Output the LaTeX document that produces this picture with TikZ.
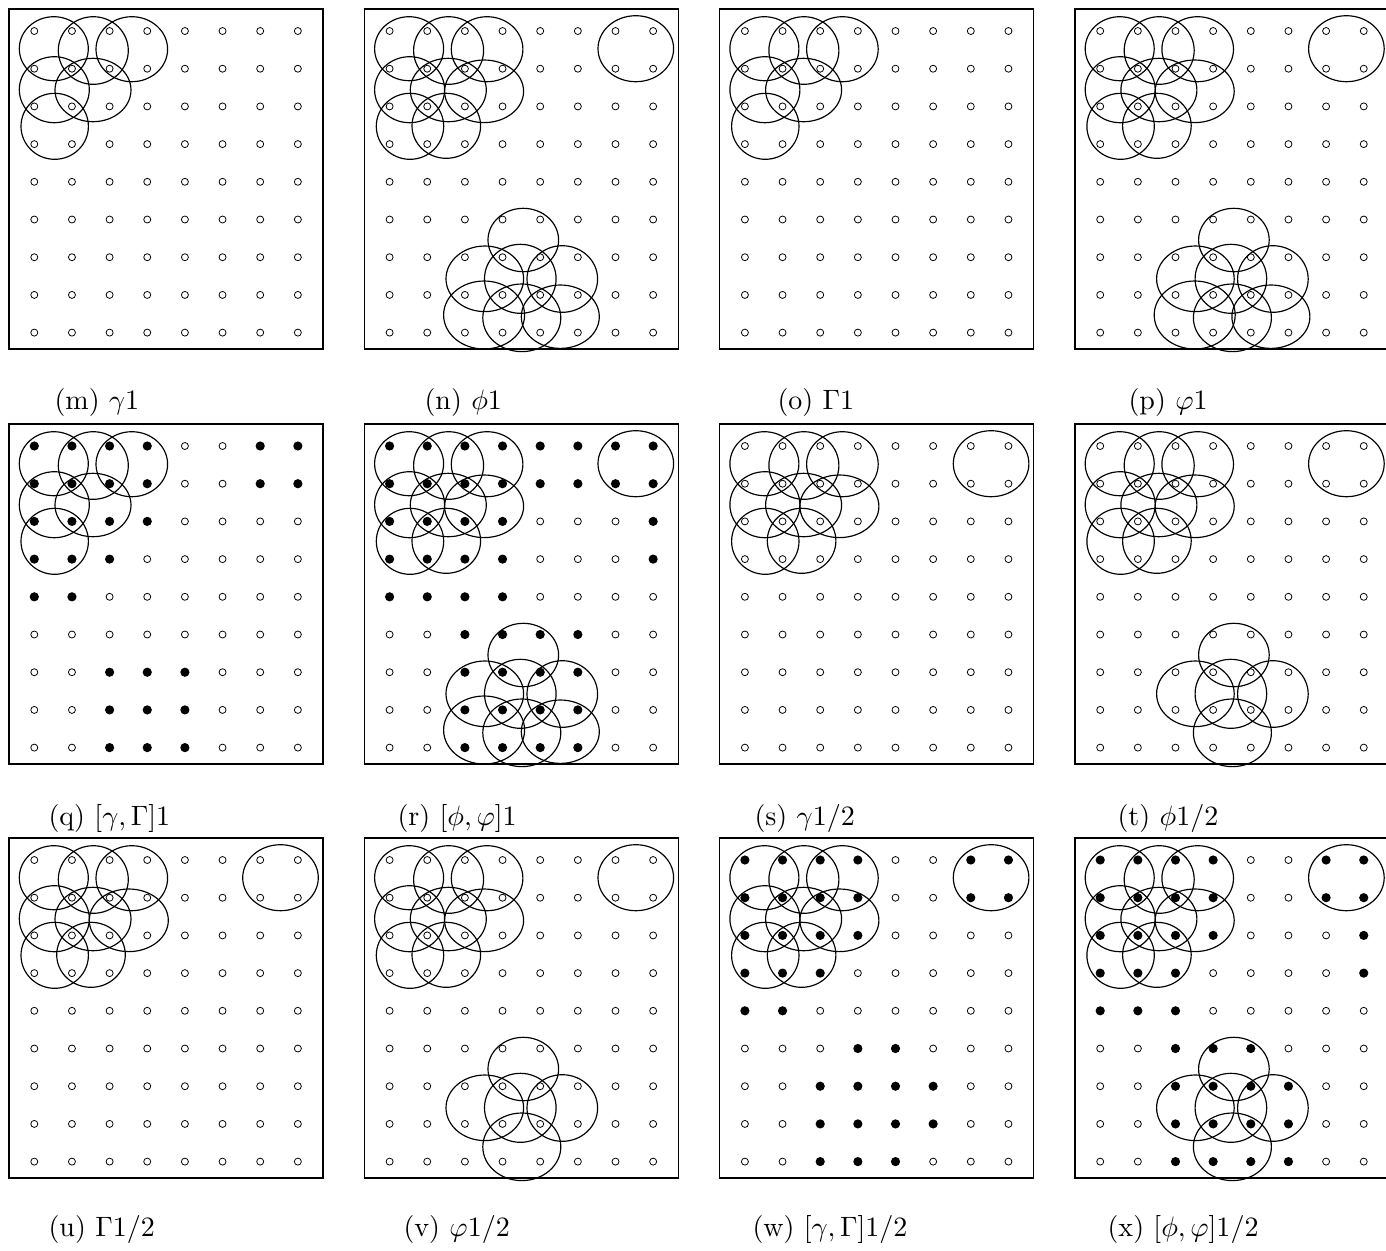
\documentclass[tikz,border=0pt]{standalone}
\usepackage{amsmath}
\newcommand\EllSetTL{%
  \draw[ell] (44.8,39.7) ellipse[x radius=34.5,y radius=32];
  \draw[ell] (84.3,41.5) ellipse[x radius=35,y radius=33.8];
  \draw[ell] (122.8,40.2) ellipse[x radius=35.8,y radius=32.5];
  \draw[ell] (45.3,80.7) ellipse[x radius=35,y radius=33];
  \draw[ell] (84,81) ellipse[x radius=38,y radius=31.7];
  \draw[ell] (45.7,117.3) ellipse[x radius=33.7,y radius=33];}
\newcommand\EllSetTLfull{%
  \EllSetTL
  \draw[ell] (119.8,82.3) ellipse[x radius=39.5,y radius=31.3];
  \draw[ell] (82,116.8) ellipse[x radius=34.3,y radius=32.5];
  \draw[ell] (271.5,39.7) ellipse[x radius=37.8,y radius=33];}
\newcommand\EllSetLowFive{%
  \draw[ell] (159,231) ellipse[x radius=35.3,y radius=31.7];
  \draw[ell] (120.5,269.8) ellipse[x radius=38.8,y radius=32.8];
  \draw[ell] (156,269.8) ellipse[x radius=35.8,y radius=34.5];
  \draw[ell] (198,270) ellipse[x radius=35.3,y radius=33.3];
  \draw[ell] (157.5,308.8) ellipse[x radius=39,y radius=33.8];}
\newcommand\EllSetLowSeven{%
  \EllSetLowFive
  \draw[ell] (119.8,306) ellipse[x radius=40.5,y radius=34];
  \draw[ell] (196,307.7) ellipse[x radius=39,y radius=31.7];}
\newcommand\PanelBase{%
  \draw[frame] (0,0) rectangle (314,340);
  \foreach \i in {0,...,7} \foreach \j in {0,...,8}
    \draw[odot] (25.3+37.65*\i,22+37.7*\j) circle[radius=3.5];}
\newcommand\FillDots[1]{%
  \foreach \j/\cols in {#1} \foreach \i in \cols
    \fill (25.3+37.65*\i,22+37.7*\j) circle[radius=4.6];}
\begin{document}
\begin{tikzpicture}[x=0.357pt,y=-0.357pt,
  frame/.style={draw,line width=0.45pt},
  ell/.style={draw,line width=0.42pt},
  odot/.style={draw,line width=0.28pt},
  captext/.style={anchor=west,inner sep=0pt}]
\useasboundingbox (0,0) rectangle (1386,1250);
% ---------- row 1 ----------
\begin{scope}[shift={(9,9)}]
  \PanelBase \EllSetTL
\end{scope}
\begin{scope}[shift={(364.3,9)}]
  \PanelBase \EllSetTLfull \EllSetLowSeven
\end{scope}
\begin{scope}[shift={(719.6,9)}]
  \PanelBase \EllSetTL
\end{scope}
\begin{scope}[shift={(1074.9,9)}]
  \PanelBase \EllSetTLfull \EllSetLowSeven
\end{scope}
% ---------- row 2 ----------
\begin{scope}[shift={(9,424)}]
  \PanelBase
  \FillDots{0/{0,1,2,3,6,7},1/{0,1,2,3,6,7},2/{0,1,2,3},3/{0,1,2},4/{0,1},6/{2,3,4},7/{2,3,4},8/{2,3,4}}
  \EllSetTL
\end{scope}
\begin{scope}[shift={(364.3,424)}]
  \PanelBase
  \FillDots{0/{0,1,2,3,4,5,6,7},1/{0,1,2,3,4,5,6,7},2/{0,1,2,3,7},3/{0,1,2,3,7},4/{0,1,2,3},5/{2,3,4,5},6/{2,3,4,5},7/{2,3,4,5},8/{2,3,4,5}}
  \EllSetTLfull \EllSetLowSeven
\end{scope}
\begin{scope}[shift={(719.6,424)}]
  \PanelBase \EllSetTLfull
\end{scope}
\begin{scope}[shift={(1074.9,424)}]
  \PanelBase \EllSetTLfull \EllSetLowFive
\end{scope}
% ---------- row 3 ----------
\begin{scope}[shift={(9,838)}]
  \PanelBase \EllSetTLfull
\end{scope}
\begin{scope}[shift={(364.3,838)}]
  \PanelBase \EllSetTLfull \EllSetLowFive
\end{scope}
\begin{scope}[shift={(719.6,838)}]
  \PanelBase
  \FillDots{0/{0,1,2,3,6,7},1/{0,1,2,3,6,7},2/{0,1,2,3},3/{0,1,2},4/{0,1},5/{3,4},6/{2,3,4,5},7/{2,3,4,5},8/{2,3,4}}
  \EllSetTLfull
\end{scope}
\begin{scope}[shift={(1074.9,838)}]
  \PanelBase
  \FillDots{0/{0,1,2,3,6,7},1/{0,1,2,3,6,7},2/{0,1,2,3,7},3/{0,1,2,7},4/{0,1,2},5/{2,3,4},6/{2,3,4,5},7/{2,3,4,5},8/{2,3,4,5}}
  \EllSetTLfull \EllSetLowFive
\end{scope}
% ---------- captions ----------
\node[captext] (cm) at (54,402) {(m) $\gamma 1$};
\node[captext] (cn) at (424,402) {(n) $\phi 1$};
\node[captext] (co) at (777,402) {(o) $\Gamma 1$};
\node[captext] (cp) at (1128,402) {(p) $\varphi 1$};
\node[captext] (cq) at (48,818) {(q) $[\gamma,\Gamma]1$};
\node[captext] (cr) at (397,818) {(r) $[\phi,\varphi]1$};
\node[captext] (cs) at (754,818) {(s) $\gamma 1/2$};
\node[captext] (ct) at (1117,818) {(t) $\phi 1/2$};
\node[captext] (cu) at (48,1229) {(u) $\Gamma 1/2$};
\node[captext] (cv) at (403,1229) {(v) $\varphi 1/2$};
\node[captext] (cw) at (752,1229) {(w) $[\gamma,\Gamma]1/2$};
\node[captext] (cx) at (1107,1229) {(x) $[\phi,\varphi]1/2$};
\end{tikzpicture}
\end{document}
